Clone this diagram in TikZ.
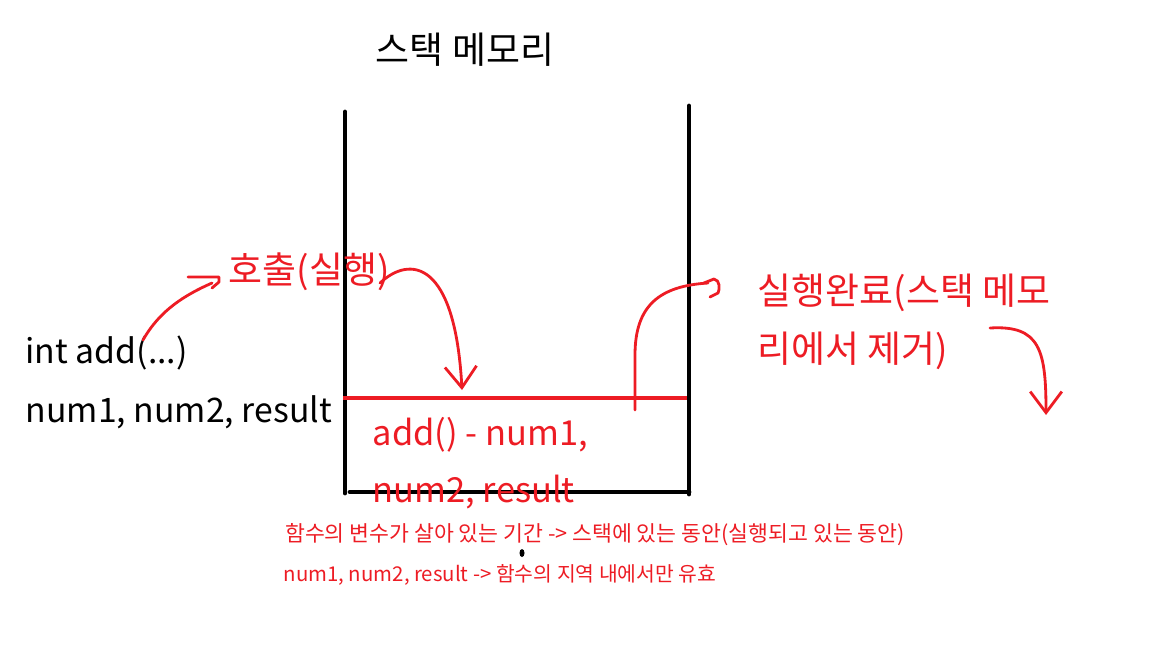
\documentclass[tikz,border=0pt]{standalone}
\usepackage{fontspec}
\setmainfont{Noto Sans CJK KR}
\usetikzlibrary{arrows.meta, positioning}
\definecolor{paintred}{HTML}{ED1C24}
\tikzset{
  wall/.style={line width=1.4pt, black, line cap=round},
  frameline/.style={line width=1.1pt, paintred},
  bigtext/.style={font=\fontsize{10.5}{16.5}\selectfont, inner sep=0pt},
  latintext/.style={font=\fontsize{9.6}{16.3}\selectfont, inner sep=0pt,
    text height=7.5pt, text depth=2.5pt},
  redtext/.style={bigtext, text=paintred},
  smalltext/.style={font=\fontsize{5.8}{7}\selectfont, text=paintred, inner sep=0pt},
  scribble/.style={line width=0.8pt, paintred, line cap=round, line join=round},
  barb/.style={scribble, -{Straight Barb[length=6pt, width=9pt, line width=0.8pt]}},
  hookhead/.pic={\draw[scribble] (-24,-6) -- (7,-6) -- (7,-1) -- (0,5);},
  curlhead/.pic={\draw[scribble] (-4,0) -- (6,-4) .. controls (12,-3) and (12,6) .. (10,10) -- (2,14);}
}
\begin{document}
\begin{tikzpicture}[x=0.01cm, y=-0.01cm]
  \useasboundingbox (0,0) rectangle (1152,648);

  % stack memory box
  \node[bigtext] (title) at (465,50) {스택 메모리};
  \draw[wall] (345,112) -- (345,493);
  \draw[wall] (689,106) -- (689,494);
  \draw[wall] (350,492) -- (689,492);
  \draw[frameline] (343,398) -- (687,398);
  \coordinate (framein) at (462,390);
  \coordinate (frameout) at (635,410);

  % texts
  \node[latintext, anchor=west] (sig) at (25,355) {int add(...)};
  \node[latintext, below=6.3pt of sig.south west, anchor=north west] (vars) {num1, num2, result};
  \node[redtext, anchor=west] (call) at (228,272) {호출(실행)};
  \node[redtext, anchor=west, align=left] (done) at (757,322) {실행완료(스택 메모\\리에서 제거)};
  \node[redtext, font=\fontsize{9.8}{16.3}\selectfont, anchor=west, align=left] (frame) at (372,463) {add() - num1,\\num2, result};
  \node[smalltext, font=\fontsize{6.15}{7}\selectfont] (life) at (595,535) {함수의 변수가 살아 있는 기간 -> 스택에 있는 동안(실행되고 있는 동안)};
  \node[smalltext, anchor=west] (scope) at (283,575) {num1, num2, result -> 함수의 지역 내에서만 유효};
  \fill (522,553) ellipse (2.5 and 4);

  % arrows
  \coordinate (sigtop) at (143,340);
  \coordinate (callin) at (212,283);
  \draw[scribble] (sigtop) .. controls (160,310) and (185,295) .. (callin);
  \pic at (callin) {hookhead};

  \coordinate (callout) at (380,283);
  \draw[barb] (callout) .. controls (410,255) and (455,260) .. (framein);

  \coordinate (donein) at (708,283);
  \draw[scribble] (frameout) -- (635,355) .. controls (635,305) and (660,286) .. (donein);
  \pic at (donein) {curlhead};

  \coordinate (doneout) at (990,328);
  \coordinate (gone) at (1046,415);
  \draw[barb] (doneout) .. controls (1040,325) and (1046,350) .. (gone);
\end{tikzpicture}
\end{document}
